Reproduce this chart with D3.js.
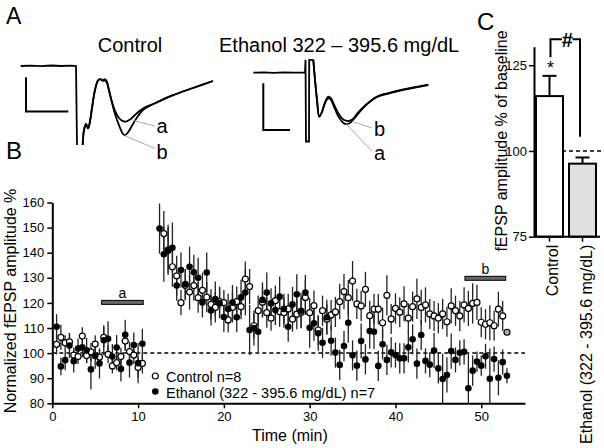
<!DOCTYPE html>
<html><head><meta charset="utf-8">
<script src="https://cdn.jsdelivr.net/npm/d3@7"></script>
<style>body{margin:0;background:#fff}svg{display:block}</style>
</head><body>
<svg id="c" width="604" height="448"></svg>
<script>
// ---------- DATA ----------
// Panel B time course (min)
const timeMin = [0.5,1,1.5,2,2.5,3,3.5,4,4.5,5,5.5,6,6.5,7,7.5,8,8.5,9,9.5,10,10.5,
 12.5,13,13.5,14,14.5,15,15.5,16,16.5,17,
 17.5,18,18.5,19,19.5,20,20.5,21,21.5,22,
 22.5,23,23.5,24,24.5,25,25.5,26,26.5,27,
 27.5,28,28.5,29,29.5,30,30.5,31,31.5,32,
 32.5,33,33.5,34,34.5,35,35.5,36,36.5,37,
 37.5,38,38.5,39,39.5,40,40.5,41,41.5,42,
 42.5,43,43.5,44,44.5,45,45.5,46,46.5,47,
 47.5,48,48.5,49,49.5,50,50.5,51,51.5,52,
 52.5,53];
const controlMean = [103.5,106.3,104.1,104.5,99.2,98.6,106.8,99,100.5,103.6,98.4,106.3,99.5,94.9,96.2,98.6,104.8,100.6,99.2,94.3,95.9,
 null,147.6,141,134.4,130.8,120.1,127,124.3,126.9,122.1,
 125,122.3,119.4,118.2,120.5,120.1,113.2,118.2,120.5,118.5,
 129.5,126.5,110.9,116.9,120.3,116.1,113.9,120.9,116.5,116.1,
 117.6,113.5,115.5,116.3,122.2,116.1,118.9,109.2,116.9,113.5,
 115.2,116.4,120.5,124.5,122.1,128.7,119.6,118.8,125.4,114.9,
 117.5,117.5,112.1,123,113.6,117.8,116.3,119.6,113.9,118.5,
 121.6,118.2,119.2,115.6,114.8,113.9,115.6,112.5,118.8,116.9,
 114.8,119.2,117.8,119.8,120.2,112.3,111.5,112.1,110.9,117.5,
 114.8,108.3];
const controlSEM = [4,5,3,3.5,3,3,3.5,3,3.5,3.5,3,4,3.5,3,3,3.5,4,4,3.5,4,4,
 null,9,9,8,8,5,6,7,6,6,
 7,6,6,6,6,5,5,6,6,5,
 7,7,5,6,6,6,5,6,6,6,
 6,5,6,6,7,6,6,6,6,6,
 6,6,7,7,7,8,6,6,7,6,
 6,6,6,8,6,6,6,7,6,6,
 8,7,7,6,6,6,6,6,7,6,
 6,7,7,8,7,6,6,7,6,7,
 6,1];
const ethanolMean = [110.5,94.7,97.2,103,96.8,101.8,102.3,101.1,93.5,98.8,95.9,105.1,105.7,98.6,102.2,93.7,107.3,96.2,103.2,96,103.7,
 149.6,139.4,141.1,142,126.9,133.1,127.5,134.4,132.2,130,
 120.2,132.1,117,121.5,119.8,114.4,117.6,120.1,114.3,122.2,
 124.1,109.2,110,108.5,121.2,124.1,119.8,117.2,122.5,117.6,
 110.5,119.4,123.4,116.9,124.1,110.1,111.9,107.9,104.1,114.3,
 104.9,100.2,95.3,102.8,112.1,99.1,95,104.8,97.5,108.8,
 108.5,94.9,103.5,97.3,100.3,99.2,97.9,97.9,102.3,105.5,
 95.8,107.2,96.9,95.4,101,93.9,89.7,91.3,100.8,97.3,
 100.1,100.5,86,93,96.6,95,98.7,89.8,97.6,90.2,
 96.4,91];
const ethanolSEM = [5,3.5,4,5,4.5,4,4,5,8,5,6,6,7,5,5,5,6,6,5,8,6,
 10,11,10,10,6,7,6,8,7,8,
 6,8,6,7,6,6,6,7,6,7,
 9,10,7,8,7,8,6,6,8,6,
 6,7,8,7,7,8,7,7,6,7,
 6,6,6,6,8,6,6,7,6,7,
 7,6,6,6,6,5,6,6,6,6,
 6,6,5,5,7,6,10,7,7,5,
 5,5,14,6,4,4,5,12,5,7,
 5,3];
const xTicksB = [0,10,20,30,40,50];
const yTicksB = [80,90,100,110,120,130,140,150,160];
const periodBars = [{label:"a", from:5.75, to:10.6, level:120.2},{label:"b", from:48.1, to:52.85, level:129.8}];
const legendLabels = ["Control n=8","Ethanol (322 - 395.6 mg/dL) n=7"];

// Panel C
const cCategories = ["Control","Ethanol (322 - 395.6 mg/dL)"];
const cMean = [116,96.3];
const cSEM = [5.9,1.8];
const yTicksC = [75,100,125];

// Panel A traces (t in ms, v in mV, arbitrary)
const ctrlBaseT = [-5.53,-4.5,-3.5,-2.5,-1.5,-0.5,0,0.1];
const ctrlBaseV = [0,0.01,-0.005,0.012,0,0.01,0,-1.975];
const ctrlA_T = [0.67,0.8,1.0,1.2,1.35,1.6,1.9,2.2,2.45,2.65,2.85,3.05,3.3,3.6,3.9,4.3,4.7,5.0,5.4,6.0,6.7,7.9,9.7,11.7,13.7];
const ctrlA_V = [-1.975,-1.6,-1.45,-1.56,-1.45,-1.05,-0.6,-0.37,-0.33,-0.37,-0.36,-0.4,-0.62,-0.9,-1.12,-1.3,-1.38,-1.39,-1.34,-1.2,-1.06,-0.93,-0.73,-0.55,-0.375];
const ctrlB_T = [0.67,0.8,1.0,1.2,1.35,1.6,1.9,2.2,2.45,2.65,2.85,3.05,3.3,3.6,3.9,4.3,4.7,4.9,5.2,5.7,6.2,6.7,7.9,9.7,11.7,13.7];
const ctrlB_V = [-1.975,-1.6,-1.45,-1.56,-1.45,-1.05,-0.6,-0.36,-0.33,-0.36,-0.33,-0.37,-0.6,-0.92,-1.2,-1.48,-1.7,-1.73,-1.66,-1.45,-1.25,-1.1,-0.93,-0.73,-0.55,-0.375];
const ethBaseT = [-5.27,-4.2,-3.2,-2.2,-1.2,-0.1,-0.05,0,0.3,0.32,0.73];
const ethBaseV = [0,0.01,-0.005,0.01,0,0,0.32,-1.72,-1.72,0.32,0.32];
const ethA_T = [0.73,0.9,1.1,1.33,1.6,1.9,2.23,2.5,2.8,3.2,3.6,3.9,4.3,4.7,5.2,6.0,7.07,8.4,9.73,10.9,12.23];
const ethA_V = [0.32,-0.18,-0.68,-1.1,-0.98,-0.76,-0.64,-0.68,-0.85,-1.08,-1.22,-1.28,-1.27,-1.18,-1.03,-0.81,-0.61,-0.51,-0.43,-0.37,-0.31];
const ethB_T = [0.73,0.9,1.1,1.33,1.6,1.9,2.23,2.5,2.8,3.2,3.6,4.0,4.4,4.8,5.2,6.0,7.07,8.4,9.73,10.9,12.23];
const ethB_V = [0.32,-0.18,-0.68,-1.1,-0.98,-0.74,-0.6,-0.64,-0.8,-1.0,-1.14,-1.2,-1.2,-1.13,-1.0,-0.8,-0.6,-0.5,-0.42,-0.36,-0.3];
const ctrlScaleBarT = [-5,-5,-0.77], ctrlScaleBarV = [-0.28,-1.14,-1.14];
const ethScaleBarT = [-4.27,-4.27,-1.6], ethScaleBarV = [-0.265,-1.43,-1.43];

// ---------- DRAW ----------
const FONT = "Arial, 'Liberation Sans', sans-serif";
const svg = d3.select("#c").attr("font-family", FONT);
const zip = (a,b) => a.map((d,i)=>[d,b[i]]);

function styleAxis(g, fs){
  g.attr("font-family", FONT).attr("font-size", fs);
  g.select(".domain").attr("stroke","#000").attr("stroke-width",2);
  g.selectAll(".tick line").attr("stroke","#000").attr("stroke-width",1.5);
  g.selectAll(".tick text").attr("fill","#000");
}

// ===== Panel B =====
const xB = d3.scaleLinear().domain([0,55.1]).range([52.3,525]);
const yB = d3.scaleLinear().domain([80,160]).range([403.3,202.5]);

svg.append("line").attr("x1",xB(0)).attr("x2",xB(55.1)).attr("y1",yB(100)).attr("y2",yB(100))
  .attr("stroke","#000").attr("stroke-width",1.5).attr("stroke-dasharray","4,3");

const gxB = svg.append("g").attr("transform",`translate(0,${yB(80)})`)
  .call(d3.axisBottom(xB).tickValues(xTicksB).tickSize(5).tickPadding(3).tickSizeOuter(0));
styleAxis(gxB, 13);
const gyB = svg.append("g").attr("transform",`translate(${xB(0)},0)`)
  .call(d3.axisLeft(yB).tickValues(yTicksB).tickSize(5).tickPadding(3).tickSizeOuter(0));
styleAxis(gyB, 13);

svg.append("text").attr("x",xB(27.7)).attr("y",441).attr("text-anchor","middle")
  .attr("font-size",16).text("Time (min)");
svg.append("text").attr("transform",`translate(16,301) rotate(-90)`).attr("text-anchor","middle")
  .attr("font-size",16).text("Normalized fEPSP amplitude %");

const pts = timeMin.map((t,i)=>({t, c:controlMean[i], cs:controlSEM[i], e:ethanolMean[i], es:ethanolSEM[i]}));
const errG = svg.append("g").attr("stroke","#222").attr("stroke-width",1.3);
pts.filter(d=>d.c!=null).forEach(d=>{
  errG.append("line").attr("x1",xB(d.t)).attr("x2",xB(d.t))
    .attr("y1",yB(Math.max(80,d.c-d.cs))).attr("y2",yB(d.c+d.cs));
});
pts.filter(d=>d.e!=null).forEach(d=>{
  errG.append("line").attr("x1",xB(d.t)).attr("x2",xB(d.t))
    .attr("y1",yB(Math.max(80,d.e-d.es))).attr("y2",yB(d.e+d.es));
});
svg.append("g").selectAll("circle").data(pts.filter(d=>d.c!=null)).join("circle")
  .attr("cx",d=>xB(d.t)).attr("cy",d=>yB(d.c)).attr("r",3)
  .attr("fill",(d,i,a)=> i===a.length-1 ? "#aaa" : "#fff").attr("stroke","#000").attr("stroke-width",1.2);
svg.append("g").selectAll("circle").data(pts.filter(d=>d.e!=null)).join("circle")
  .attr("cx",d=>xB(d.t)).attr("cy",d=>yB(d.e)).attr("r",3.3).attr("fill","#000");

periodBars.forEach(p=>{
  svg.append("rect").attr("x",xB(p.from)).attr("y",yB(p.level)-2).attr("width",xB(p.to)-xB(p.from)).attr("height",4)
    .attr("fill","#666").attr("stroke","#000").attr("stroke-width",1);
  svg.append("text").attr("x",(xB(p.from)+xB(p.to))/2).attr("y",yB(p.level)-4).attr("text-anchor","middle")
    .attr("font-size",14).text(p.label);
});

// legend
svg.append("circle").attr("cx",155.3).attr("cy",376).attr("r",3).attr("fill","#fff").attr("stroke","#000").attr("stroke-width",1.2);
svg.append("circle").attr("cx",155.3).attr("cy",391.5).attr("r",3.3).attr("fill","#000");
svg.append("text").attr("x",166).attr("y",381.5).attr("font-size",14.5).text(legendLabels[0]);
svg.append("text").attr("x",166).attr("y",397.5).attr("font-size",14.5).text(legendLabels[1]);

// ===== Panel C =====
const xC = d3.scaleBand().domain(cCategories).range([534,598]).paddingInner(0.182).paddingOuter(0.06);
const yC = d3.scaleLinear().domain([75,130.4]).range([236.7,46.7]);
svg.append("line").attr("x1",534).attr("x2",604).attr("y1",yC(100)).attr("y2",yC(100))
  .attr("stroke","#000").attr("stroke-width",1.5).attr("stroke-dasharray","4,3");
const fills = ["#fff","#e0e0e0"];
cCategories.forEach((c,i)=>{
  const cx = xC(c)+xC.bandwidth()/2;
  svg.append("line").attr("x1",cx).attr("x2",cx).attr("y1",yC(cMean[i])).attr("y2",yC(cMean[i]+cSEM[i]))
    .attr("stroke","#000").attr("stroke-width",2);
  svg.append("line").attr("x1",cx-7).attr("x2",cx+7).attr("y1",yC(cMean[i]+cSEM[i])).attr("y2",yC(cMean[i]+cSEM[i]))
    .attr("stroke","#000").attr("stroke-width",2);
  svg.append("rect").attr("x",xC(c)).attr("y",yC(cMean[i])).attr("width",xC.bandwidth()).attr("height",yC(75)-yC(cMean[i]))
    .attr("fill",fills[i]).attr("stroke","#000").attr("stroke-width",2);
});
const gyC = svg.append("g").attr("transform","translate(534,0)")
  .call(d3.axisLeft(yC).tickValues(yTicksC).tickSize(5).tickPadding(2).tickSizeOuter(0));
styleAxis(gyC, 13);
const gxC = svg.append("g").attr("transform",`translate(0,${yC(75)})`)
  .call(d3.axisBottom(xC).tickSize(5).tickSizeOuter(0));
styleAxis(gxC, 16);
gxC.select(".domain").attr("d","M534,0H600");
gxC.selectAll(".tick text").attr("text-anchor","end").attr("dy",null).attr("y",0)
  .attr("transform","translate(9,8) rotate(-90)");
svg.append("text").attr("transform","translate(507,141) rotate(-90)").attr("text-anchor","middle")
  .attr("font-size",16).text("fEPSP amplitude % of baseline");
// significance
const cL = xC(cCategories[0])+xC.bandwidth()/2+1, cR = xC(cCategories[1])+xC.bandwidth()/2-2.5;
svg.append("path").attr("d",`M${cL},${yC(127.3)}V${yC(132.55)}H${cL+11.5}M${cR-7.5},${yC(132.55)}H${cR}V${yC(104.15)}`)
  .attr("fill","none").attr("stroke","#000").attr("stroke-width",2);
svg.append("text").attr("x",(cL+cR)/2+2).attr("y",yC(132.55)+7.5).attr("text-anchor","middle")
  .attr("font-size",20).attr("font-weight","bold").text("#");
svg.append("text").attr("x",cL).attr("y",yC(125.3)+10).attr("text-anchor","middle").attr("font-size",18).text("*");

// ===== Panel A =====
function drawTraces(x0, y0, base, traces, bar, leaders, labels){
  const xs = d3.scaleLinear().domain([0,1]).range([x0,x0+10]);
  const ys = d3.scaleLinear().domain([0,1]).range([y0,y0-40]);
  const g = svg.append("g").attr("fill","none").attr("stroke","#000");
  g.append("path").attr("d",d3.line().x(d=>xs(d[0])).y(d=>ys(d[1]))(base)).attr("stroke-width",1.8);
  traces.forEach(tr=>{
    g.append("path").attr("d",d3.line().curve(d3.curveCatmullRom).x(d=>xs(d[0])).y(d=>ys(d[1]))(tr)).attr("stroke-width",1.8);
  });
  g.append("path").attr("d",d3.line().x(d=>xs(d[0])).y(d=>ys(d[1]))(bar)).attr("stroke-width",2);
  leaders.forEach(l=>{
    g.append("line").attr("x1",xs(l[0][0])).attr("y1",ys(l[0][1])).attr("x2",xs(l[1][0])).attr("y2",ys(l[1][1]))
      .attr("stroke","#aaa").attr("stroke-width",1);
  });
  labels.forEach(l=>{
    svg.append("text").attr("x",xs(l[0])).attr("y",ys(l[1])).attr("font-size",20).text(l[2]);
  });
}
drawTraces(76,66, zip(ctrlBaseT,ctrlBaseV), [zip(ctrlA_T,ctrlA_V), zip(ctrlB_T,ctrlB_V)],
  zip(ctrlScaleBarT,ctrlScaleBarV),
  [[[5.7,-1.36],[7.9,-1.5]],[[4.85,-1.74],[7.9,-2.06]]],
  [[8.05,-1.68,"a"],[8.05,-2.33,"b"]]);
drawTraces(306,72.7, zip(ethBaseT,ethBaseV), [zip(ethA_T,ethA_V), zip(ethB_T,ethB_V)],
  zip(ethScaleBarT,ethScaleBarV),
  [[[4.67,-1.225],[6.6,-1.38]],[[4.0,-1.28],[6.6,-1.96]]],
  [[6.8,-1.58,"b"],[6.8,-2.17,"a"]]);

svg.append("text").attr("x",130).attr("y",52).attr("text-anchor","middle").attr("font-size",20).text("Control");
svg.append("text").attr("x",219).attr("y",52).attr("font-size",20).text("Ethanol 322 \u2013 395.6 mg/dL");
svg.append("text").attr("x",6).attr("y",24).attr("font-size",23).text("A");
svg.append("text").attr("x",6).attr("y",159).attr("font-size",24).text("B");
svg.append("text").attr("x",477).attr("y",30).attr("font-size",24).text("C");
</script></body></html>
